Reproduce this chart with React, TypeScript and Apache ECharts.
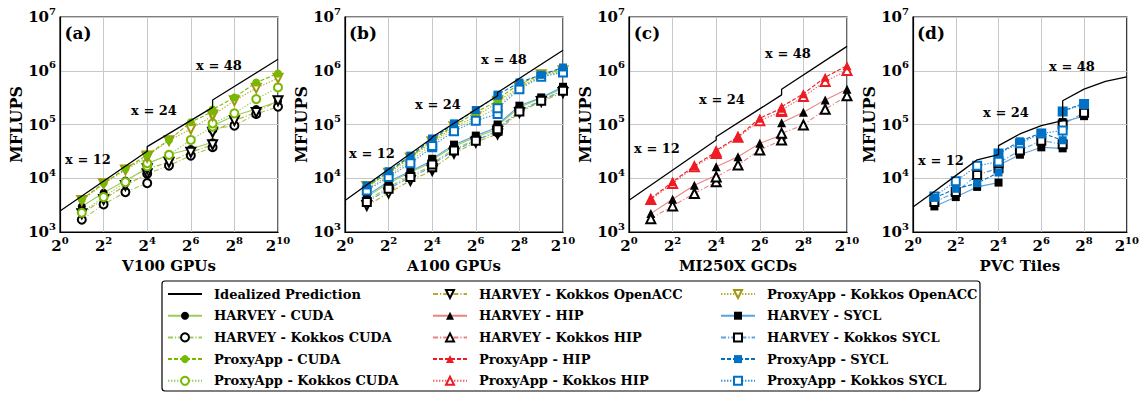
import React, { useEffect, useRef } from "react";
import * as echarts from "echarts";

// ---------------- DATA ----------------
// x positions (GPU counts); each series covers three problem sizes (x = 12, 24, 48)
const X_FULL = [2, 4, 8, 16, 16, 32, 64, 128, 128, 256, 512, 1024];
const X_PVC = [2, 4, 8, 16, 16, 32, 64, 128, 128, 256];
const IDEAL_X_ABC = [1, 16, 16, 128, 128, 1024];
const IDEAL_X_D = [1, 2, 4, 8, 16, 16, 32, 64, 128, 128, 256, 512, 1024];

const panelLabels = ["(a)", "(b)", "(c)", "(d)"];
const xAxisNames = ["V100 GPUs", "A100 GPUs", "MI250X GCDs", "PVC Tiles"];
const yAxisName = "MFLUPS";
const sizeLabels = ["x = 12", "x = 24", "x = 48"];

// (a) V100
const v100_ideal = [2450, 31800, 38800, 208000, 285000, 1640000];
const v100_harveyCuda = [2990, 5370, 9080, 15000, 18500, 27600, 35000, 46700, 95000, 146000, 194000, 269000];
const v100_harveyKokkosCuda = [1690, 3260, 5520, 8110, 12100, 17200, 26400, 37700, 82000, 95100, 157000, 214000];
const v100_proxyCuda = [4030, 8100, 15000, 27200, 28000, 51600, 110000, 175000, 190000, 319000, 606000, 889000];
const v100_proxyKokkosCuda = [2280, 4460, 8460, 16700, 19000, 27200, 51600, 91000, 105000, 161000, 297000, 489000];
const v100_harveyKokkosOpenacc = [2190, 4030, 7340, 12100, 15000, 19900, 30500, 42000, 71600, 118000, 168000, 277000];
const v100_proxyKokkosOpenacc = [3870, 7880, 14300, 24600, 26000, 50100, 82500, 146000, 150000, 277000, 475000, 728000];

// (b) A100
const a100_ideal = [3870, 56200, 58500, 343000, 395000, 2410000];
const a100_harveyCuda = [4460, 8110, 13000, 19900, 22000, 39400, 57800, 82500, 95000, 208000, 310000, 475000];
const a100_harveyKokkosCuda = [3870, 6840, 11200, 17200, 19000, 35100, 51600, 71600, 85000, 181000, 285000, 436000];
const a100_proxyCuda = [6840, 13000, 25300, 50100, 52000, 95100, 168000, 277000, 300000, 564000, 865000, 1070000];
const a100_proxyKokkosCuda = [6360, 11200, 21300, 42200, 44000, 82500, 126000, 208000, 230000, 475000, 805000, 968000];
const a100_harveyKokkosOpenacc = [3120, 5290, 9080, 13900, 15000, 29200, 46700, 66700, 75000, 168000, 269000, 395000];
const a100_proxyKokkosOpenacc = [7030, 12400, 23900, 46700, 48000, 91200, 140000, 258000, 270000, 489000, 840000, 996000];
const a100_harveySycl = [4790, 8710, 13500, 21300, 23000, 42200, 62100, 88600, 100000, 224000, 319000, 503000];
const a100_harveyKokkosSycl = [3600, 6360, 10500, 16100, 18000, 32700, 50100, 76900, 82000, 175000, 277000, 425000];
const a100_proxySycl = [7340, 13500, 26400, 53800, 55000, 105000, 186000, 343000, 360000, 606000, 840000, 1150000];
const a100_proxyKokkosSycl = [5930, 10500, 19000, 37700, 40000, 74700, 118000, 157000, 200000, 455000, 771000, 929000];

// (c) MI250X
const mi250x_ideal = [3900, 51400, 59300, 356000, 454000, 2840000];
const mi250x_harveyHip = [2200, 4070, 7430, 11400, 16300, 25100, 44600, 63800, 108000, 169000, 287000, 454000];
const mi250x_harveyKokkosHip = [1770, 3060, 5200, 8580, 10600, 17600, 33500, 51400, 68500, 98000, 192000, 341000];
const mi250x_proxyHip = [4190, 8580, 17100, 31200, 33000, 59300, 131000, 201000, 215000, 372000, 760000, 1240000];
const mi250x_proxyKokkosHip = [4010, 7990, 16300, 29000, 31000, 57700, 118000, 174000, 185000, 331000, 631000, 1010000];

// (d) PVC
const pvc_ideal = [2910, 5680, 11200, 22000, 27600, 40500, 66700, 95100, 118000, 277000, 455000, 632000, 771000];
const pvc_harveySycl = [2990, 4460, 6900, 8300, 17500, 27400, 37600, 36000, 111000, 143000];
const pvc_harveyKokkosSycl = [3600, 5520, 11500, 15400, 19100, 33000, 50100, 43000, 100000, 166000];
const pvc_proxySycl = [4330, 6360, 8060, 12800, 29400, 48700, 69800, 50900, 178000, 248000];
const pvc_proxyKokkosSycl = [4580, 8830, 17000, 20500, 29000, 45000, 68000, 77200, 175000, 240000];

const legendCol1 = ["Idealized Prediction", "HARVEY - CUDA", "HARVEY - Kokkos CUDA", "ProxyApp - CUDA", "ProxyApp - Kokkos CUDA"];
const legendCol2 = ["HARVEY - Kokkos OpenACC", "HARVEY - HIP", "HARVEY - Kokkos HIP", "ProxyApp - HIP", "ProxyApp - Kokkos HIP"];
const legendCol3 = ["ProxyApp - Kokkos OpenACC", "HARVEY - SYCL", "HARVEY - Kokkos SYCL", "ProxyApp - SYCL", "ProxyApp - Kokkos SYCL"];

// ---------------- STYLES ----------------
const FONT = "DejaVu Serif";
const SOLID: any = "solid";
const DASHED: any = [4, 2];
const DASHDOT: any = [5, 2, 1.2, 2];
const DOTTED: any = [1.4, 1.6];

const STYLE: Record<string, any> = {
  "HARVEY - CUDA": { line: "#9ACD5A", type: SOLID, symbol: "circle", color: "#000" },
  "HARVEY - Kokkos CUDA": { line: "#9ACD5A", type: DASHDOT, symbol: "emptyCircle", color: "#000" },
  "ProxyApp - CUDA": { line: "#76B900", type: DASHED, symbol: "circle", color: "#76B900" },
  "ProxyApp - Kokkos CUDA": { line: "#9ACD5A", type: DOTTED, symbol: "emptyCircle", color: "#76B900" },
  "HARVEY - Kokkos OpenACC": { line: "#B8AC2E", type: DASHDOT, symbol: "emptyTriangle", rotate: 180, color: "#000" },
  "ProxyApp - Kokkos OpenACC": { line: "#B8AC2E", type: DOTTED, symbol: "emptyTriangle", rotate: 180, color: "#A39612" },
  "HARVEY - HIP": { line: "#F08080", type: SOLID, symbol: "triangle", color: "#000" },
  "HARVEY - Kokkos HIP": { line: "#F08080", type: DASHDOT, symbol: "emptyTriangle", color: "#000" },
  "ProxyApp - HIP": { line: "#ED1C24", type: DASHED, symbol: "triangle", color: "#ED1C24" },
  "ProxyApp - Kokkos HIP": { line: "#F06060", type: DOTTED, symbol: "emptyTriangle", color: "#ED1C24" },
  "HARVEY - SYCL": { line: "#5BA3E0", type: SOLID, symbol: "rect", color: "#000" },
  "HARVEY - Kokkos SYCL": { line: "#5BA3E0", type: DASHDOT, symbol: "emptyRect", color: "#000" },
  "ProxyApp - SYCL": { line: "#0071C5", type: DASHED, symbol: "rect", color: "#0071C5" },
  "ProxyApp - Kokkos SYCL": { line: "#3A8FD8", type: DOTTED, symbol: "emptyRect", color: "#0071C5" },
};

const GRID_LEFTS = [60, 345, 629, 913];
const GRID_TOP = 17;
const GRID_W = 218;
const GRID_H = 215;

function zip(xs: number[], ys: number[]) {
  return ys.map((y, i) => [xs[i], y]);
}

function idealSeries(xs: number[], ys: number[], g: number) {
  return {
    type: "line",
    name: "Idealized Prediction",
    xAxisIndex: g,
    yAxisIndex: g,
    data: zip(xs, ys),
    symbol: "none",
    lineStyle: { color: "#000", width: 1.3, type: "solid" },
    itemStyle: { color: "#000" },
    z: 5,
  };
}

function dataSeries(name: string, xs: number[], ys: number[], g: number) {
  const s = STYLE[name];
  return {
    type: "line",
    name,
    xAxisIndex: g,
    yAxisIndex: g,
    data: zip(xs, ys),
    symbol: s.symbol,
    symbolSize: s.symbol.indexOf("riangle") >= 0 ? 9 : 8,
    symbolRotate: s.rotate || 0,
    showAllSymbol: true,
    lineStyle: { color: s.line, width: 1.1, type: s.type },
    itemStyle: { color: s.color, borderWidth: 1.3 },
    z: 3,
  };
}

const superRich = {
  b: { fontFamily: FONT, fontWeight: "bold", fontSize: 15, lineHeight: 22, color: "#000" },
  s: { fontFamily: FONT, fontWeight: "bold", fontSize: 10, lineHeight: 10, verticalAlign: "top", color: "#000" },
};

export default function App() {
  const ref = useRef<HTMLDivElement>(null);
  useEffect(() => {
    if (!ref.current) return;
    const chart = echarts.init(ref.current, undefined, { renderer: "svg" });

    const grids = GRID_LEFTS.map((l) => ({
      left: l,
      top: GRID_TOP,
      width: GRID_W,
      height: GRID_H,
      show: true,
      borderColor: "#000",
      borderWidth: 1.2,
      backgroundColor: "transparent",
    }));

    const xAxes = GRID_LEFTS.map((_, i) => ({
      type: "log",
      logBase: 4,
      min: 1,
      max: 1024,
      gridIndex: i,
      name: xAxisNames[i],
      nameLocation: "middle",
      nameGap: 25,
      nameTextStyle: { fontFamily: FONT, fontWeight: "bold", fontSize: 15, color: "#000" },
      axisLine: { show: true, lineStyle: { color: "#000", width: 1.2 } },
      axisTick: { show: false },
      minorTick: { show: false },
      splitLine: { show: true, lineStyle: { color: "#c8c8c8", width: 1 } },
      axisLabel: {
        margin: 3,
        formatter: (v: number) => `{b|2}{s|${Math.round(Math.log2(v))}}`,
        rich: superRich,
      },
    }));

    const yAxes = GRID_LEFTS.map((_, i) => ({
      type: "log",
      logBase: 10,
      min: 1000,
      max: 10000000,
      gridIndex: i,
      name: yAxisName,
      nameLocation: "middle",
      nameGap: 35,
      nameTextStyle: { fontFamily: FONT, fontWeight: "bold", fontSize: 16, color: "#000" },
      axisLine: { show: true, lineStyle: { color: "#000", width: 1.2 } },
      axisTick: { show: false },
      minorTick: { show: false },
      splitLine: { show: true, lineStyle: { color: "#c8c8c8", width: 1 } },
      axisLabel: {
        margin: 4,
        formatter: (v: number) => `{b|10}{s|${Math.round(Math.log10(v))}}`,
        rich: superRich,
      },
    }));

    const series: any[] = [
      idealSeries(IDEAL_X_ABC, v100_ideal, 0),
      dataSeries("HARVEY - CUDA", X_FULL, v100_harveyCuda, 0),
      dataSeries("HARVEY - Kokkos CUDA", X_FULL, v100_harveyKokkosCuda, 0),
      dataSeries("HARVEY - Kokkos OpenACC", X_FULL, v100_harveyKokkosOpenacc, 0),
      dataSeries("ProxyApp - Kokkos CUDA", X_FULL, v100_proxyKokkosCuda, 0),
      dataSeries("ProxyApp - Kokkos OpenACC", X_FULL, v100_proxyKokkosOpenacc, 0),
      dataSeries("ProxyApp - CUDA", X_FULL, v100_proxyCuda, 0),

      idealSeries(IDEAL_X_ABC, a100_ideal, 1),
      dataSeries("HARVEY - CUDA", X_FULL, a100_harveyCuda, 1),
      dataSeries("HARVEY - Kokkos CUDA", X_FULL, a100_harveyKokkosCuda, 1),
      dataSeries("HARVEY - Kokkos OpenACC", X_FULL, a100_harveyKokkosOpenacc, 1),
      dataSeries("HARVEY - SYCL", X_FULL, a100_harveySycl, 1),
      dataSeries("HARVEY - Kokkos SYCL", X_FULL, a100_harveyKokkosSycl, 1),
      dataSeries("ProxyApp - Kokkos CUDA", X_FULL, a100_proxyKokkosCuda, 1),
      dataSeries("ProxyApp - Kokkos OpenACC", X_FULL, a100_proxyKokkosOpenacc, 1),
      dataSeries("ProxyApp - CUDA", X_FULL, a100_proxyCuda, 1),
      dataSeries("ProxyApp - Kokkos SYCL", X_FULL, a100_proxyKokkosSycl, 1),
      dataSeries("ProxyApp - SYCL", X_FULL, a100_proxySycl, 1),

      idealSeries(IDEAL_X_ABC, mi250x_ideal, 2),
      dataSeries("HARVEY - HIP", X_FULL, mi250x_harveyHip, 2),
      dataSeries("HARVEY - Kokkos HIP", X_FULL, mi250x_harveyKokkosHip, 2),
      dataSeries("ProxyApp - Kokkos HIP", X_FULL, mi250x_proxyKokkosHip, 2),
      dataSeries("ProxyApp - HIP", X_FULL, mi250x_proxyHip, 2),

      idealSeries(IDEAL_X_D, pvc_ideal, 3),
      dataSeries("HARVEY - SYCL", X_PVC, pvc_harveySycl, 3),
      dataSeries("HARVEY - Kokkos SYCL", X_PVC, pvc_harveyKokkosSycl, 3),
      dataSeries("ProxyApp - Kokkos SYCL", X_PVC, pvc_proxyKokkosSycl, 3),
      dataSeries("ProxyApp - SYCL", X_PVC, pvc_proxySycl, 3),
    ];

    const legendBase = {
      orient: "vertical",
      top: 287,
      itemWidth: 34,
      itemHeight: 10,
      itemGap: 7.7,
      padding: 0,
      selectedMode: false,
      textStyle: { fontFamily: FONT, fontWeight: "bold", fontSize: 13, color: "#000", lineHeight: 14, padding: [0, 0, 0, 7] },
    };

    const col1Data = legendCol1.map((n, i) =>
      i === 0 ? { name: n, itemStyle: { opacity: 0 } } : { name: n }
    );

    // annotation text positions: [panelLabel], [x=12], [x=24], [x=48] (pixel centres)
    const labelPos = [
      { p: [78, 33], t: [[88, 159], [154, 110], [219, 65]] },
      { p: [363, 33], t: [[372, 153], [438, 104], [504, 59]] },
      { p: [647, 33], t: [[657, 148], [722, 99], [788, 53]] },
      { p: [931, 33], t: [[941, 160], [1006, 112], [1072, 66]] },
    ];
    const graphics: any[] = [];
    labelPos.forEach((lp, i) => {
      graphics.push({
        type: "text",
        x: lp.p[0],
        y: lp.p[1],
        style: { text: panelLabels[i], font: `bold 17px "${FONT}"`, fill: "#000", align: "center", verticalAlign: "middle" },
        z: 100,
      });
      lp.t.forEach((pt, k) => {
        graphics.push({
          type: "text",
          x: pt[0],
          y: pt[1],
          style: { text: sizeLabels[k], font: `bold 13px "${FONT}"`, fill: "#000", align: "center", verticalAlign: "middle" },
          z: 100,
        });
      });
    });
    graphics.push({
      type: "rect",
      shape: { x: 162, y: 281, width: 818, height: 110, r: 3 },
      style: { fill: "none", stroke: "#000", lineWidth: 1.2 },
      z: 100,
    });

    chart.setOption({
      animation: false,
      backgroundColor: "#fff",
      grid: grids,
      xAxis: xAxes,
      yAxis: yAxes,
      series,
      legend: [
        { ...legendBase, left: 167, data: col1Data },
        { ...legendBase, left: 432, data: legendCol2 },
        { ...legendBase, left: 720, data: legendCol3 },
      ],
      graphic: graphics,
    });

    return () => chart.dispose();
  }, []);

  return <div ref={ref} style={{ position: "fixed", left: 0, top: 0, width: 1142, height: 396 }} />;
}
